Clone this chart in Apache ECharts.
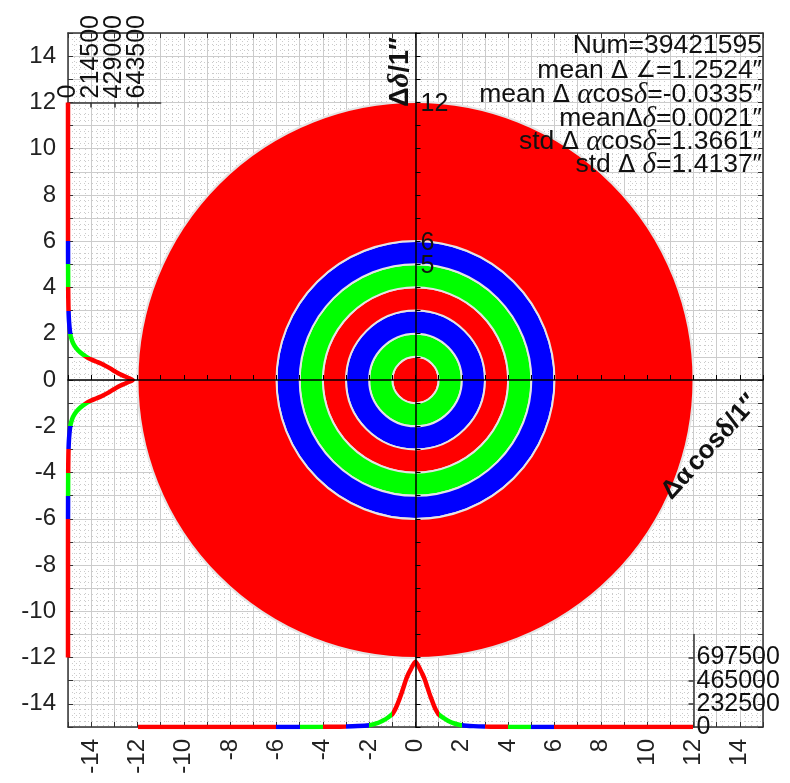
<!DOCTYPE html>
<html>
<head>
<meta charset="utf-8">
<script src="https://cdn.jsdelivr.net/npm/echarts@6/dist/echarts.min.js"></script>
<style>
  html, body { margin: 0; background: #fff; }
  #chart { width: 790px; height: 783px; }
</style>
</head>
<body>
<div id="chart"></div>
<script>
// rings of the residual map: [inner radius, outer radius] in arcsec
const ringEdges = [[0, 1], [1, 2], [2, 3], [3, 4], [4, 5], [5, 6], [6, 12]];
const ringColors = ["#ff0000", "#00ff00", "#0000ff", "#ff0000", "#00ff00", "#0000ff", "#ff0000"];
const ringLabels = [12, 6, 5];

// marginal histograms
const histBins = [
  -12, -11, -10, -9, -8, -7, -6, -5, -4, -3.5, -3, -2.5, -2, -1.8, -1.6, -1.4, -1.2,
  -1, -0.9, -0.8, -0.7, -0.6, -0.5, -0.4, -0.3, -0.2, -0.1,
  0,
  0.1, 0.2, 0.3, 0.4, 0.5, 0.6, 0.7, 0.8, 0.9, 1,
  1.2, 1.4, 1.6, 1.8, 2, 2.5, 3, 3.5, 4, 5, 6, 7, 8, 9, 10, 11, 12,
];
const countsDAlpha = [
  0, 15, 30, 50, 90, 150, 300, 700, 1500, 2600, 4600, 9200, 18500, 28500, 42500, 64500, 93000,
  129000, 167000, 217000, 277000, 342000, 412000, 482000, 537000, 582000, 626000,
  656000,
  624000, 578000, 533000, 478000, 408000, 338000, 273000, 213000, 163000, 127000,
  91000, 63500, 41500, 27500, 17500, 8800, 4400, 2400, 1400, 700, 300, 150, 90, 50, 30, 15, 0,
];
const countsDDelta = [
  0, 18, 35, 60, 100, 170, 350, 800, 1700, 2800, 5000, 10000, 21000, 31000, 46000, 72000, 112000,
  170000, 210000, 260000, 310000, 352000, 390000, 425000, 460000, 505000, 555000,
  600000,
  555000, 505000, 460000, 425000, 390000, 352000, 310000, 260000, 210000, 170000,
  112000, 72000, 46000, 31000, 21000, 10000, 5000, 2800, 1700, 800, 350, 170, 100, 60, 35, 18, 0,
];
const deltaTicks = [0, 214500, 429000, 643500];
const alphaTicks = [0, 232500, 465000, 697500];

const statLines = [
  "Num=39421595",
  "mean {s|Δ} {a|∠}=1.2524″",
  "mean {s|Δ} {g|α}cos{g|δ}=-0.0335″",
  "mean{s|Δ}{g|δ}=0.0021″",
  "std {s|Δ} {g|α}cos{g|δ}=1.3661″",
  "std {s|Δ} {g|δ}=1.4137″",
];

const SANS = "'Liberation Sans', Arial, sans-serif";
const SERIF = "'Liberation Serif', 'Times New Roman', serif";
const frameColor = "#333";
const main = { left: 68, top: 33, width: 695, height: 694 };
const ux = main.width / 30;
const uy = main.height / 30;

const chart = echarts.init(document.getElementById("chart"));

function evenLabel(v) {
  return v % 2 === 0 && Math.abs(v) < 15 ? String(v) : "";
}

function bandPieces() {
  const pieces = [];
  ringEdges.forEach((e, i) => {
    pieces.push({ gte: e[0], lte: e[1], color: ringColors[i] });
    pieces.push({ gte: -e[1], lte: -e[0], color: ringColors[i] });
  });
  return pieces;
}

const frameAxis = {
  type: "value",
  min: -15,
  max: 15,
  interval: 1,
  axisLine: { onZero: false, lineStyle: { color: frameColor, width: 1.5 } },
  axisTick: { inside: true, length: 5, lineStyle: { color: frameColor } },
};

// scatter labels default to the symbol opacity, so force them opaque
const countTextStyle = { fontSize: 25, color: "#111", fontFamily: SANS, opacity: 1 };

const richStat = {
  s: { fontFamily: "'DejaVu Sans', sans-serif", fontSize: 25, fill: "#111" },
  a: { fontFamily: "'DejaVu Sans', sans-serif", fontSize: 23, fill: "#111" },
  g: { fontFamily: SERIF, fontStyle: "italic", fontSize: 29, fill: "#111" },
};
const statY = [46, 71, 95, 119, 142, 165];

chart.setOption({
  backgroundColor: "#fff",
  animation: false,
  grid: [
    { ...main },
    { ...main },
    { ...main },
    { left: main.left, top: main.top + 3 * uy, width: 4 * ux, height: 24 * uy },
    { left: main.left + 3 * ux, top: main.top + 26 * uy, width: 24 * ux, height: 4 * uy },
  ],
  xAxis: [
    {
      ...frameAxis,
      gridIndex: 0,
      position: "bottom",
      axisLabel: {
        rotate: 90, fontSize: 24, color: "#222", fontFamily: SANS, margin: 12,
        formatter: evenLabel,
      },
      splitLine: { show: true, lineStyle: { color: "#cccccc", width: 1 } },
      minorTick: { show: false, splitNumber: 4 },
      minorSplitLine: { show: true, lineStyle: { color: "#cbcbcb", width: 1, type: [1, 3] } },
    },
    { ...frameAxis, gridIndex: 1, position: "top", axisLabel: { show: false }, splitLine: { show: false } },
    {
      type: "value", gridIndex: 2, min: -15, max: 15, interval: 1, z: 5,
      axisLine: { onZero: true, lineStyle: { color: "#000", width: 1.5 } },
      axisTick: { inside: true, length: 5, lineStyle: { color: "#000" } },
      axisLabel: { show: false },
      splitLine: { show: false },
    },
    {
      type: "value", gridIndex: 3, position: "top", min: 0, max: 858000,
      axisLine: { onZero: false, lineStyle: { color: frameColor, width: 1.5 } },
      axisTick: { inside: true, length: 5, customValues: deltaTicks, lineStyle: { color: frameColor, width: 1.5 } },
      axisLabel: { show: false },
      splitLine: { show: false },
    },
    { type: "value", gridIndex: 4, min: -12, max: 12, show: false },
  ],
  yAxis: [
    {
      ...frameAxis,
      gridIndex: 0,
      position: "left",
      axisLabel: { fontSize: 24, color: "#222", fontFamily: SANS, margin: 12, formatter: evenLabel },
      splitLine: { show: true, lineStyle: { color: "#cccccc", width: 1 } },
      minorTick: { show: false, splitNumber: 4 },
      minorSplitLine: { show: true, lineStyle: { color: "#cbcbcb", width: 1, type: [1, 3] } },
    },
    { ...frameAxis, gridIndex: 1, position: "right", axisLabel: { show: false }, splitLine: { show: false } },
    {
      type: "value", gridIndex: 2, min: -15, max: 15, interval: 1, z: 5,
      axisLine: { onZero: true, lineStyle: { color: "#000", width: 1.5 } },
      axisTick: { inside: true, length: 5, lineStyle: { color: "#000" } },
      axisLabel: { show: false },
      splitLine: { show: false },
    },
    { type: "value", gridIndex: 3, min: -12, max: 12, show: false },
    {
      type: "value", gridIndex: 4, position: "right", min: 0, max: 930000,
      axisLine: { onZero: false, lineStyle: { color: frameColor, width: 1.5 } },
      axisTick: { inside: true, length: 5, customValues: alphaTicks, lineStyle: { color: frameColor, width: 1.5 } },
      axisLabel: { show: false },
      splitLine: { show: false },
    },
  ],
  visualMap: [
    { type: "piecewise", show: false, seriesIndex: 2, dimension: 1, pieces: bandPieces() },
    { type: "piecewise", show: false, seriesIndex: 3, dimension: 0, pieces: bandPieces() },
  ],
  series: [
    {
      type: "custom",
      xAxisIndex: 0,
      yAxisIndex: 0,
      z: 2,
      clip: false,
      silent: true,
      data: ringEdges.map((e, i) => [e[0], e[1], i]),
      renderItem(params, api) {
        const c = api.coord([0, 0]);
        const r0 = api.size([api.value(0), 0])[0];
        const r = api.size([api.value(1), 0])[0];
        return {
          type: "ring",
          shape: { cx: c[0], cy: c[1], r: r, r0: r0 },
          style: { fill: ringColors[api.value(2)], stroke: "#e4e4e4", lineWidth: 2 },
        };
      },
    },
    {
      type: "scatter",
      xAxisIndex: 2,
      yAxisIndex: 2,
      z: 6,
      symbolSize: 0,
      silent: true,
      itemStyle: { opacity: 1 },
      data: ringLabels.map((r) => [0, r]),
      label: {
        show: true, position: "right", distance: 5, offset: [0, 2],
        formatter: (p) => String(p.value[1]),
        fontSize: 25, color: "#111", fontFamily: SANS, opacity: 1,
      },
    },
    {
      type: "line",
      xAxisIndex: 3,
      yAxisIndex: 3,
      z: 4,
      showSymbol: false,
      smooth: 0.25,
      lineStyle: { width: 4.5 },
      data: histBins.map((b, i) => [countsDDelta[i], b]),
    },
    {
      type: "line",
      xAxisIndex: 4,
      yAxisIndex: 4,
      z: 4,
      showSymbol: false,
      smooth: 0.25,
      lineStyle: { width: 4.5 },
      data: histBins.map((b, i) => [b, countsDAlpha[i]]),
    },
    // count labels of the two marginal axes, placed on their tick values
    {
      type: "scatter",
      xAxisIndex: 3,
      yAxisIndex: 3,
      z: 6,
      clip: false,
      silent: true,
      symbolSize: 0,
      itemStyle: { opacity: 1 },
      data: deltaTicks.map((t) => [t, 12]),
      label: {
        show: true, position: "top", distance: 4, rotate: 90,
        align: "left", verticalAlign: "middle",
        formatter: (p) => String(p.value[0]),
        ...countTextStyle,
      },
    },
    {
      type: "scatter",
      xAxisIndex: 4,
      yAxisIndex: 4,
      z: 6,
      clip: false,
      silent: true,
      symbolSize: 0,
      itemStyle: { opacity: 1 },
      data: alphaTicks.map((t) => [12, t]),
      label: {
        show: true, position: "right", distance: 3,
        align: "left", verticalAlign: "middle",
        formatter: (p) => String(p.value[1]),
        ...countTextStyle,
      },
    },
  ],
  graphic: [
    ...statLines.map((t, i) => ({
      type: "text",
      x: 762,
      y: statY[i],
      z: 20,
      style: {
        text: t,
        rich: richStat,
        font: "26.5px " + SANS,
        fill: "#111",
        align: "right",
        verticalAlign: "middle",
      },
    })),
    {
      type: "text",
      x: 401,
      y: 72,
      rotation: Math.PI / 2,
      z: 20,
      style: {
        text: "{b|Δ}{g|δ}{b|/1}{b|″}",
        rich: {
          b: { fontFamily: SANS, fontWeight: "bold", fontSize: 27, fill: "#111" },
          g: { fontFamily: SERIF, fontStyle: "italic", fontWeight: "bold", fontSize: 29, fill: "#111" },
        },
        align: "center",
        verticalAlign: "middle",
      },
    },
    {
      type: "text",
      x: 710,
      y: 447,
      rotation: (48 * Math.PI) / 180,
      z: 20,
      style: {
        text: "{b|Δ}{g|α} {b|cos}{g|δ}{b|/1″}",
        rich: {
          b: { fontFamily: SANS, fontWeight: "bold", fontSize: 26, fill: "#111" },
          g: { fontFamily: SERIF, fontWeight: "bold", fontSize: 28, fill: "#111" },
        },
        align: "center",
        verticalAlign: "middle",
      },
    },
  ],
});
</script>
</body>
</html>
